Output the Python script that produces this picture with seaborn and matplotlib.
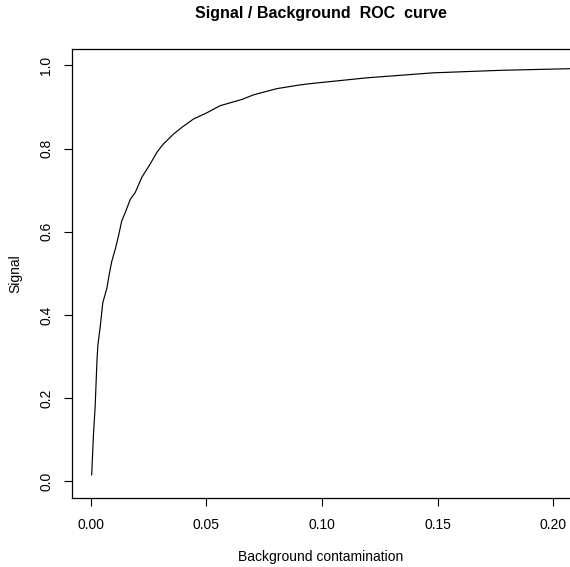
import pandas as pd
import seaborn as sns
import matplotlib.pyplot as plt

# ROC curve values
bkg_contamination = [0.0005, 0.0013, 0.0020, 0.0028, 0.0032, 0.0042, 0.0053, 0.0071,
                     0.0082, 0.0092, 0.0107, 0.0121, 0.0135, 0.0150, 0.0172, 0.0193,
                     0.0222, 0.0258, 0.0287, 0.0315, 0.0359, 0.0395, 0.0445, 0.0503,
                     0.0560, 0.0654, 0.0704, 0.0805, 0.0906, 0.0949, 0.1194, 0.1480,
                     0.1770, 0.2072, 0.2300]
signal_eff = [0.015, 0.115, 0.179, 0.292, 0.328, 0.372, 0.429, 0.465,
              0.501, 0.529, 0.558, 0.590, 0.626, 0.646, 0.678, 0.694,
              0.731, 0.763, 0.791, 0.811, 0.835, 0.851, 0.871, 0.886,
              0.903, 0.918, 0.929, 0.944, 0.953, 0.956, 0.970, 0.982,
              0.988, 0.992, 0.994]

x_ticks = [0.00, 0.05, 0.10, 0.15, 0.20]
y_ticks = [0.0, 0.2, 0.4, 0.6, 0.8, 1.0]

df = pd.DataFrame({"bkg": bkg_contamination, "sig": signal_eff})

sns.set_style("ticks")
plt.rcParams['font.family'] = ['Liberation Sans', 'DejaVu Sans']
plt.rcParams['text.color'] = 'black'
plt.rcParams['axes.labelcolor'] = 'black'
plt.rcParams['xtick.color'] = 'black'
plt.rcParams['ytick.color'] = 'black'

fig = plt.figure(figsize=(5.7, 5.67), dpi=100)
W, H = 570, 567
ax = fig.add_axes([72 / W, (H - 498.3) / H, (570 - 72) / W, (498.3 - 49.3) / H])

sns.lineplot(data=df, x="bkg", y="sig", ax=ax, color="black", linewidth=0.85,
             estimator=None, sort=False)

ax.set_xlim(-0.008, 0.2072)
ax.set_ylim(-0.041, 1.0386)
ax.set_xticks(x_ticks)
ax.set_xticklabels([f"{t:.2f}" for t in x_ticks], fontsize=10)
ax.set_yticks(y_ticks)
ax.set_yticklabels([f"{t:.1f}" for t in y_ticks], fontsize=10, rotation=90, va="center")

ax.tick_params(direction="out", length=5.5, width=0.8, color="black")
ax.tick_params(axis="x", pad=9)
ax.tick_params(axis="y", pad=8)

for side in ["left", "bottom", "top"]:
    ax.spines[side].set_visible(True)
    ax.spines[side].set_linewidth(0.9)
    ax.spines[side].set_color("black")
ax.spines["right"].set_visible(False)

ax.set_xlabel("Background contamination", fontsize=10)
ax.set_ylabel("Signal", fontsize=10)
ax.xaxis.label.set_va("center")
ax.yaxis.label.set_va("center")
ax.xaxis.set_label_coords(0.5, (498.3 - 557) / 449)
ax.yaxis.set_label_coords((15 - 72) / 498, 0.5)

ax.set_title("Signal / Background  ROC  curve", fontsize=11.5, fontweight="bold",
             y=(498.3 - 14) / 449, va="center", pad=0)

fig.savefig("out.png", dpi=100)
